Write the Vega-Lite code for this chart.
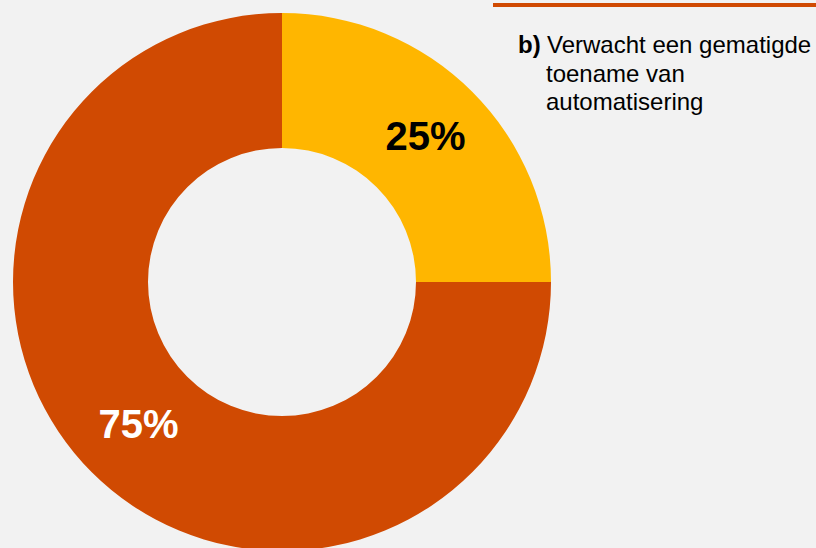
{
  "$schema": "https://vega.github.io/schema/vega-lite/v6.json",
  "width": 816,
  "height": 548,
  "autosize": {"type": "none"},
  "padding": 0,
  "background": "#F2F2F2",
  "view": {"stroke": null},
  "config": {"font": "Liberation Sans"},
  "datasets": {
    "donut": [
      {"categorie": "Verwacht een gematigde toename van automatisering", "aandeel": 25, "label": "25%"},
      {"categorie": "Overig", "aandeel": 75, "label": "75%"}
    ],
    "notes": [
      {"regel": 1, "prefix": "b)", "tekst": "Verwacht een gematigde"},
      {"regel": 2, "prefix": "", "tekst": "toename van"},
      {"regel": 3, "prefix": "", "tekst": "automatisering"}
    ]
  },
  "layer": [
    {
      "data": {"name": "donut"},
      "mark": {"type": "arc", "x": 282, "y": 282, "radius": 269, "radius2": 134, "stroke": null},
      "encoding": {
        "theta": {"field": "aandeel", "type": "quantitative", "stack": true},
        "order": {"field": "aandeel", "type": "quantitative", "sort": "ascending"},
        "color": {
          "field": "categorie",
          "type": "nominal",
          "scale": {"domain": ["Verwacht een gematigde toename van automatisering", "Overig"], "range": ["#FFB600", "#D04A02"]},
          "legend": null
        }
      }
    },
    {
      "data": {"name": "donut"},
      "mark": {"type": "text", "x": 282, "y": 282, "radius": 203, "fontSize": 40, "fontWeight": "bold", "align": "center", "baseline": "middle"},
      "encoding": {
        "theta": {"field": "aandeel", "type": "quantitative", "stack": true},
        "order": {"field": "aandeel", "type": "quantitative", "sort": "ascending"},
        "text": {"field": "label"},
        "color": {"condition": {"test": "datum.aandeel < 50", "value": "#000000"}, "value": "#FFFFFF"}
      }
    },
    {
      "data": {"values": [{"lijn": 1}]},
      "mark": {"type": "rule", "strokeWidth": 4, "color": "#D04A02"},
      "encoding": {
        "x": {"value": 493},
        "x2": {"value": 816},
        "y": {"value": 5}
      }
    },
    {
      "data": {"name": "notes"},
      "transform": [{"filter": "datum.regel == 1"}],
      "mark": {"type": "text", "x": 518, "y": 53, "fontSize": 24, "fontWeight": "bold", "align": "left", "baseline": "alphabetic", "color": "#000000"},
      "encoding": {"text": {"field": "prefix"}}
    },
    {
      "data": {"name": "notes"},
      "transform": [{"filter": "datum.regel == 1"}],
      "mark": {"type": "text", "x": 547, "y": 53, "fontSize": 24, "align": "left", "baseline": "alphabetic", "color": "#000000"},
      "encoding": {"text": {"field": "tekst"}}
    },
    {
      "data": {"name": "notes"},
      "transform": [{"filter": "datum.regel == 2"}],
      "mark": {"type": "text", "x": 546, "y": 82, "fontSize": 24, "align": "left", "baseline": "alphabetic", "color": "#000000"},
      "encoding": {"text": {"field": "tekst"}}
    },
    {
      "data": {"name": "notes"},
      "transform": [{"filter": "datum.regel == 3"}],
      "mark": {"type": "text", "x": 546, "y": 110, "fontSize": 24, "align": "left", "baseline": "alphabetic", "color": "#000000"},
      "encoding": {"text": {"field": "tekst"}}
    }
  ]
}
